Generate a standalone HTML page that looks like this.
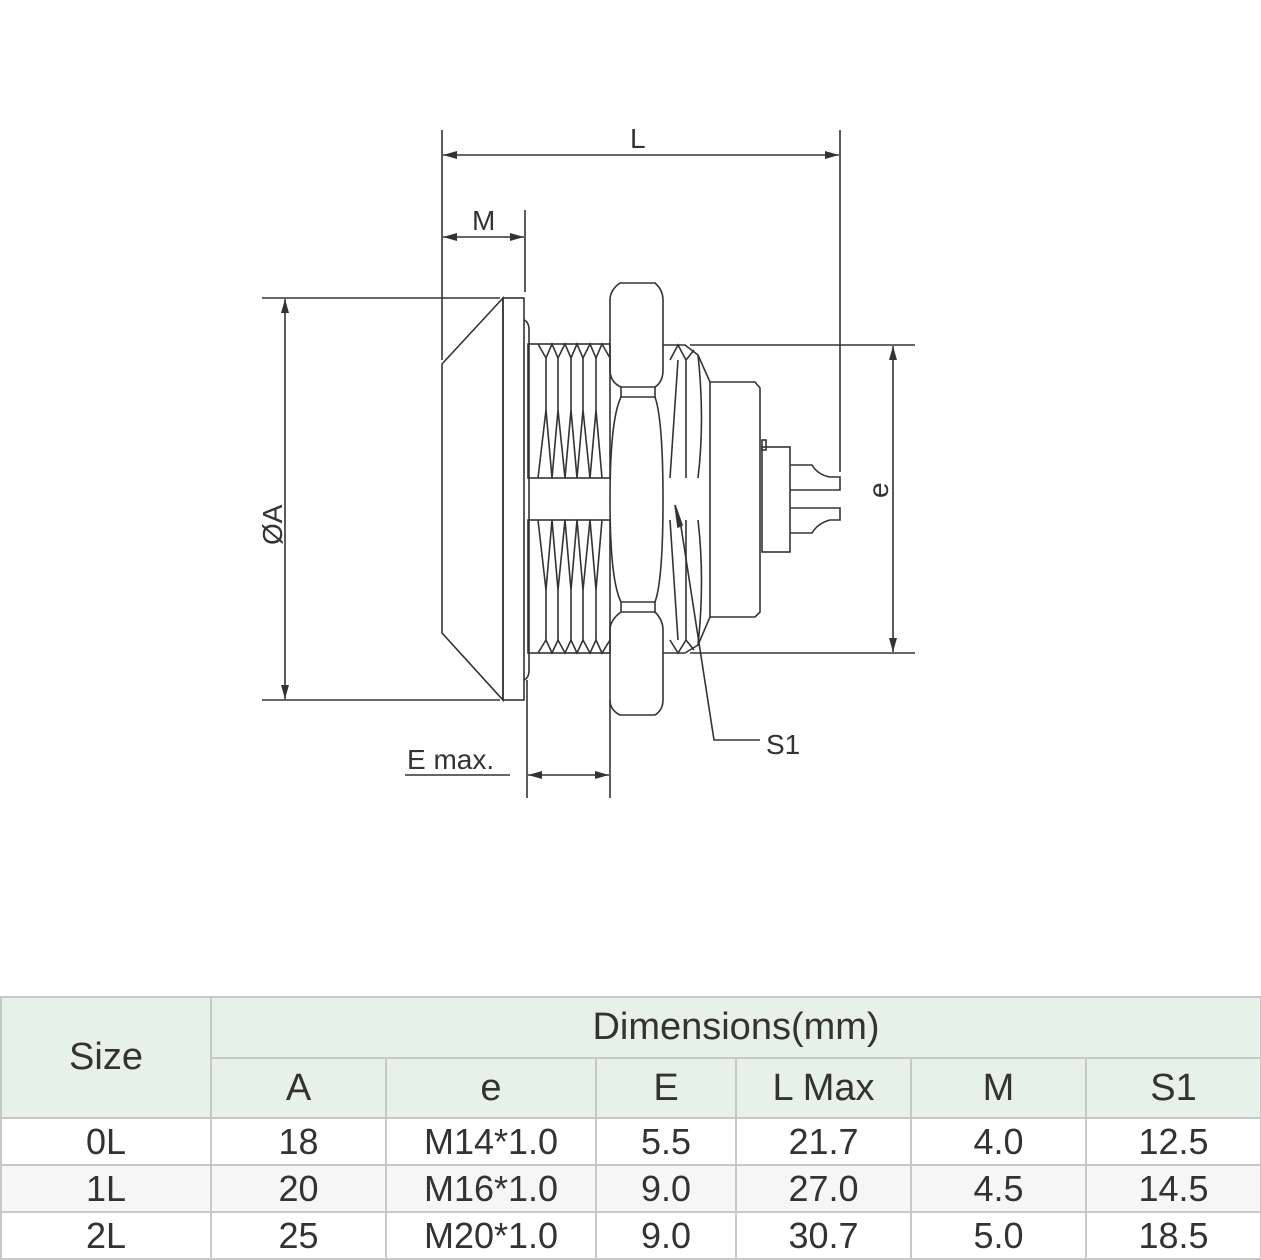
<!DOCTYPE html>
<html><head><meta charset="utf-8"><style>
body{margin:0;background:#fff;width:1261px;height:1260px;overflow:hidden;position:relative;font-family:"Liberation Sans",sans-serif}
table{position:absolute;left:0;top:996px;border-collapse:collapse;width:1260px;table-layout:fixed}
td{border:2px solid #c8c8c8;text-align:center;color:#333;padding:0;font-size:38px;font-weight:300;font-family:"Liberation Sans Narrow","Liberation Sans",sans-serif}
.h td{background:#e6f1e7}
.h1 td{height:59px}.h2 td{height:58px}
.d td{height:45px;font-size:36px}
.g td{background:#f6f6f6}
</style></head><body>
<svg width="1261" height="990" style="position:absolute;left:0;top:0" fill="none" stroke="#333" stroke-width="1.6">
<defs><marker id="a" markerWidth="14" markerHeight="8" refX="14" refY="4" orient="auto-start-reverse" markerUnits="userSpaceOnUse"><path d="M0,0 L14,4 L0,8z" fill="#333" stroke="none"/></marker></defs>
<line x1="442" y1="130" x2="442" y2="360"/><line x1="840" y1="130" x2="840" y2="472"/>
<line x1="443" y1="155" x2="839" y2="155" marker-start="url(#a)" marker-end="url(#a)"/>
<line x1="525" y1="210" x2="525" y2="292"/>
<line x1="443" y1="237" x2="524" y2="237" marker-start="url(#a)" marker-end="url(#a)"/>
<line x1="262" y1="298" x2="500" y2="298"/><line x1="262" y1="700" x2="500" y2="700"/>
<line x1="285" y1="299" x2="285" y2="699" marker-start="url(#a)" marker-end="url(#a)"/>
<line x1="690" y1="345" x2="915" y2="345"/><line x1="690" y1="653" x2="915" y2="653"/>
<line x1="893" y1="346" x2="893" y2="652" marker-start="url(#a)" marker-end="url(#a)"/>
<line x1="527" y1="680" x2="527" y2="798"/><line x1="610" y1="700" x2="610" y2="798"/>
<line x1="528" y1="775" x2="609" y2="775" marker-start="url(#a)" marker-end="url(#a)"/>
<line x1="405" y1="775" x2="510" y2="775"/>
<polyline points="680,520 714,740 760,740"/>
<path d="M675,505 L682,525 L678,527z" fill="#333"/>
<polyline points="442,364 503,298 503,700 442,633 442,364"/>
<rect x="503" y="298" width="21" height="402"/>
<path d="M524,320 Q529,322 529,330 L529,670 Q529,678 524,680"/>
<g>
<rect x="528" y="344" width="82" height="134"/>
<rect x="528" y="520" width="82" height="133"/>
<path d="M538,344 L546,358 L552,344 L558,358 L565,344 L571,358 L577,344 L583,358 L590,344 L596,358 L602,344 L610,358"/>
<path d="M538,478 L546,410 L552,478 L558,410 L565,478 L571,410 L577,478 L583,410 L590,478 L596,410 L602,478"/>
<path d="M538,520 L546,590 L552,520 L558,590 L565,520 L571,590 L577,520 L583,590 L590,520 L596,590 L602,520"/>
<path d="M538,653 L546,640 L552,653 L558,640 L565,653 L571,640 L577,653 L583,640 L590,653 L596,640 L602,653 L610,640"/>
<path d="M546,358 L546,410 M558,358 L558,410 M571,358 L571,410 M583,358 L583,410 M596,358 L596,410"/>
<path d="M546,590 L546,640 M558,590 L558,640 M571,590 L571,640 M583,590 L583,640 M596,590 L596,640"/>
</g>
<path d="M620,283 L655,283 Q663,290 663,300 L663,370 Q663,382 655,387 L621,387 Q610,382 610,370 L610,300 Q610,290 620,283z"/>
<path d="M621,397 L655,397 Q663,420 663,500 Q663,580 655,602 L621,602 Q610,580 610,500 Q610,420 621,397z"/>
<path d="M621,612 L655,612 Q663,620 663,630 L663,700 Q663,710 655,715 L620,715 Q610,710 610,700 L610,630 Q610,620 621,612z"/>
<line x1="621" y1="387" x2="621" y2="397"/><line x1="655" y1="387" x2="655" y2="397"/>
<line x1="621" y1="602" x2="621" y2="612"/><line x1="655" y1="602" x2="655" y2="612"/>
<path d="M663,345 L685,345 L698,355 L710,382 L710,617 L698,645 L685,653 L663,653"/>
<path d="M670,360 L678,345 L686,360 L694,350 M670,478 L678,360 M686,478 L686,360 M698,355 Q705,420 698,478"/>
<path d="M670,640 L678,653 L686,640 L694,650 M670,520 L678,640 M686,520 L686,640 M698,645 Q705,580 698,520"/>
<polyline points="710,382 755,382 760,388 760,612 755,617 710,617"/>
<rect x="762" y="440" width="4" height="10"/>
<rect x="762" y="447" width="28" height="105"/>
<path d="M790,465 L812,465 Q818,475 830,477 L840,477 L840,490 L790,490"/>
<path d="M790,508 L840,508 L840,520 L830,520 Q818,523 812,533 L790,533"/>
<g fill="#333" stroke="none" font-family="Liberation Sans,sans-serif" font-size="28">
<text x="630" y="148">L</text>
<text x="472" y="230">M</text>
<text x="407" y="769">E max.</text>
<text x="766" y="754">S1</text>
<text transform="translate(282,545) rotate(-90)">ØA</text>
<text transform="translate(888,498) rotate(-90)">e</text>
</g>
</svg>
<table>
<colgroup><col style="width:210px"><col style="width:175px"><col style="width:210px"><col style="width:140px"><col style="width:175px"><col style="width:175px"><col style="width:175px"></colgroup>
<tr class="h h1"><td rowspan="2">Size</td><td colspan="6">Dimensions(mm)</td></tr>
<tr class="h h2"><td>A</td><td>e</td><td>E</td><td>L Max</td><td>M</td><td>S1</td></tr>
<tr class="d"><td>0L</td><td>18</td><td>M14*1.0</td><td>5.5</td><td>21.7</td><td>4.0</td><td>12.5</td></tr>
<tr class="d g"><td>1L</td><td>20</td><td>M16*1.0</td><td>9.0</td><td>27.0</td><td>4.5</td><td>14.5</td></tr>
<tr class="d"><td>2L</td><td>25</td><td>M20*1.0</td><td>9.0</td><td>30.7</td><td>5.0</td><td>18.5</td></tr>
</table>
</body></html>
